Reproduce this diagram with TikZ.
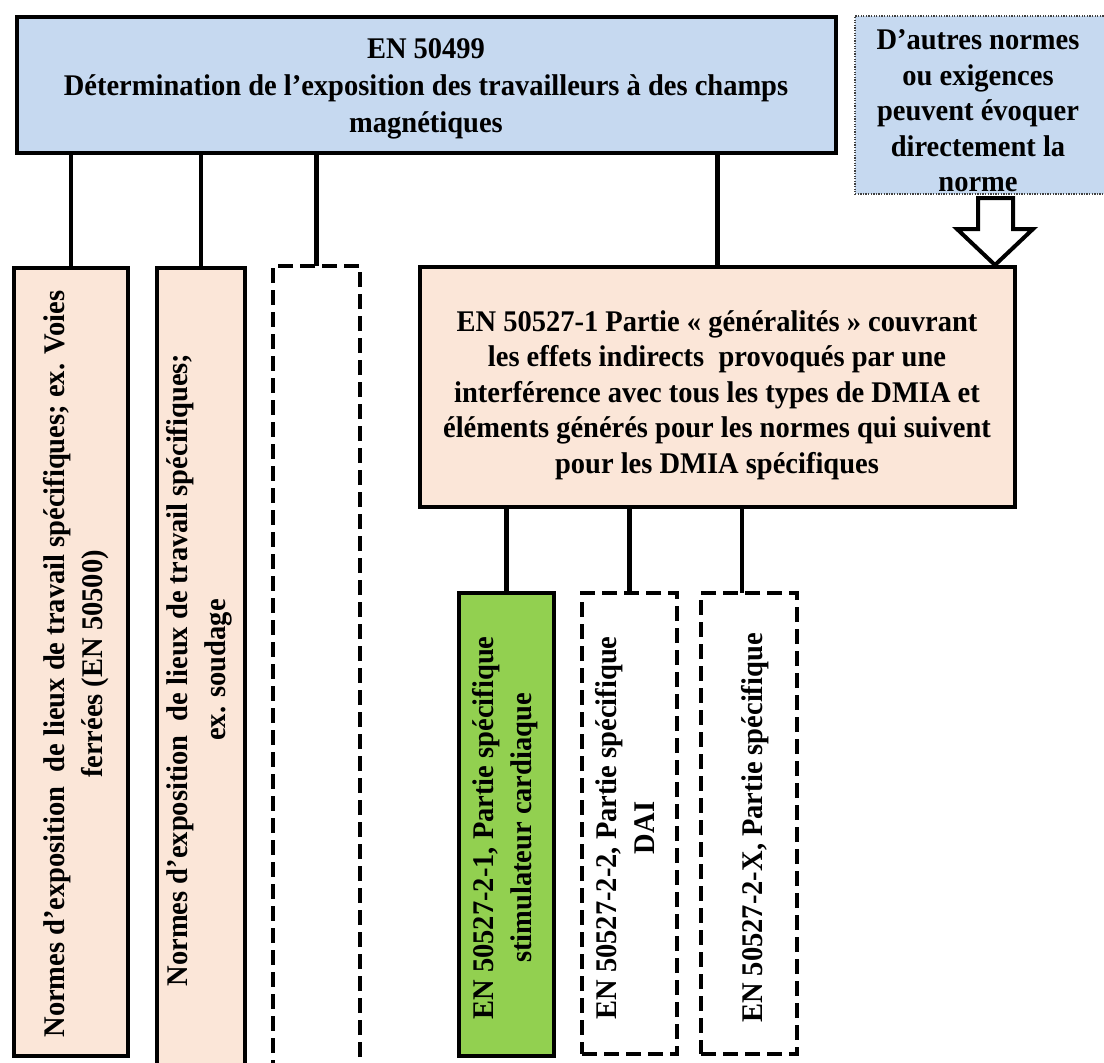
\documentclass[tikz,border=0pt]{standalone}
\usepackage{fontspec}
\setmainfont{Liberation Serif}[FakeStretch=0.95]
\usepackage{graphicx}
\definecolor{lblue}{HTML}{C6D9F0}
\definecolor{peach}{HTML}{FBE6D8}
\definecolor{lgreen}{HTML}{92D050}
\newcommand{\vtext}[1]{\rotatebox{90}{\fontsize{30}{38}\selectfont\begin{tabular}{@{}c@{}}#1\end{tabular}}}
\begin{document}
\begin{tikzpicture}[x=1pt,y=-1pt,
  every node/.style={inner sep=0pt, outer sep=0pt, font=\fontsize{30}{35.5}\selectfont\bfseries},
  solidbox/.style={draw=black, line width=4.5pt, rectangle},
  dashbox/.style={draw=black, line width=4.5pt, rectangle, dash pattern=on 15pt off 7pt},
  dotbox/.style={draw=black!75, line width=1.3pt, rectangle, dash pattern=on 1.3pt off 1.3pt, fill=lblue},
  link/.style={draw=black, line width=4.5pt},
  blockarrow/.style={draw=black, line width=4pt, fill=white, line join=miter}]
\useasboundingbox (0,0) rectangle (1104,1063);
\clip (0,0) rectangle (1104,1063);
% top box
\node[solidbox, fill=lblue, minimum width=819, minimum height=136] (top) at (426.5,85) {};
\node[align=center, font=\fontsize{30}{37}\selectfont\bfseries] (toptext) at (426,89)
  {EN 50499\\Détermination de l’exposition des travailleurs à des champs\\magnétiques};
% other norms box
\node[dotbox, minimum width=255, minimum height=178] (auto) at (982.5,105) {};
\node[align=center] (autotext) at (978,111) {D’autres normes\\ou exigences\\peuvent évoquer\\directement la\\norme};
% vertical boxes
\node[solidbox, fill=peach, minimum width=114, minimum height=788] (n1) at (71,662) {};
\node (n1text) at (76,664)
  {\vtext{Normes d’exposition \ de lieux de travail spécifiques; ex. Voies\\ferrées (EN 50500)}};
\node[solidbox, fill=peach, minimum width=88, minimum height=812] (n2) at (201,674) {};
\node (n2text) at (199,670)
  {\vtext{Normes d’exposition \ de lieux de travail spécifiques;\\ex. soudage}};
\node[dashbox, fill=white, minimum width=87, minimum height=814] (n3) at (316.5,673) {};
% middle box
\node[solidbox, fill=peach, minimum width=595, minimum height=240] (mid) at (717.5,387) {};
\node[align=center] (midtext) at (717,395)
  {EN 50527-1 Partie « généralités » couvrant\\les effets indirects \ provoqués par une\\interférence avec tous les types de DMIA et\\éléments générés pour les normes qui suivent\\pour les DMIA spécifiques};
% bottom boxes
\node[solidbox, fill=lgreen, minimum width=95, minimum height=463] (g1) at (506.5,824.5) {};
\node (g1text) at (505,828) {\vtext{EN 50527-2-1, Partie spécifique\\stimulateur cardiaque}};
\node[dashbox, fill=white, minimum width=95, minimum height=461] (d2) at (629.5,823.5) {};
\node (d2text) at (628,828) {\vtext{EN 50527-2-2, Partie spécifique\\DAI}};
\node[dashbox, fill=white, minimum width=96, minimum height=461] (d3) at (749,823.5) {};
\node (d3text) at (755,828) {\vtext{EN 50527-2-X, Partie spécifique}};
% connectors
\draw[link] (top.south -| n1.north) -- (n1.north);
\draw[link] (top.south -| n2.north) -- (n2.north);
\draw[link] (top.south -| n3.north) -- (n3.north);
\draw[link] (top.south -| mid.north) -- (mid.north);
\draw[link] (mid.south -| g1.north) -- (g1.north);
\draw[link] (mid.south -| d2.north) -- (d2.north);
\draw[link] ([xshift=-7pt]mid.south -| d3.north) -- ([xshift=-7pt]d3.north);
% block arrow from the other norms box to the middle box
\draw[blockarrow] (978,198) -- (1013,198) -- (1013,229) -- (1033,229) -- (995,265) -- (957,229) -- (978,229) -- cycle;
\end{tikzpicture}
\end{document}
